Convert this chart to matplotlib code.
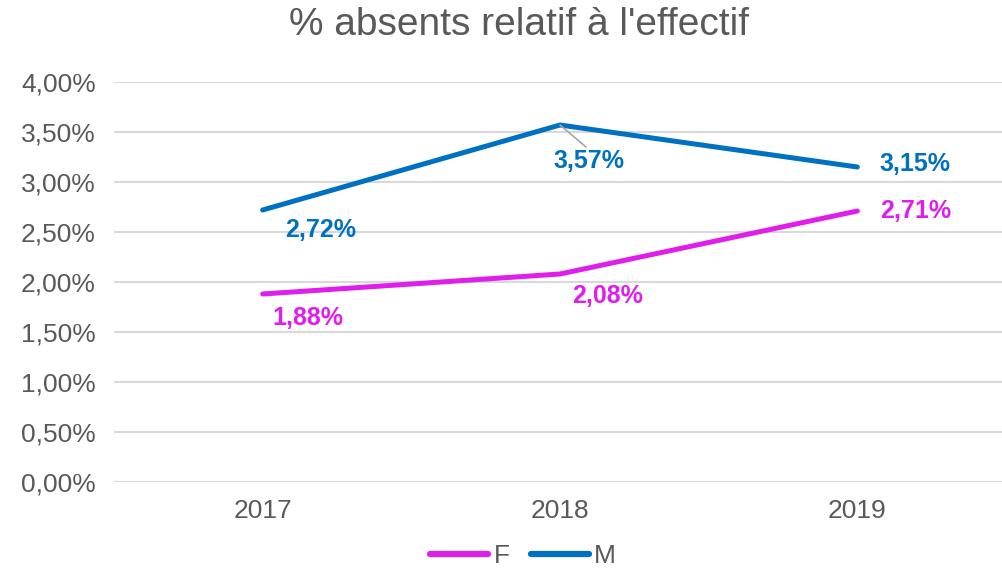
import matplotlib
matplotlib.use("Agg")
import matplotlib.pyplot as plt
from matplotlib.ticker import FuncFormatter

years = ["2017", "2018", "2019"]
F = [1.88, 2.08, 2.71]
M = [2.72, 3.57, 3.15]
yticks = [0, 0.5, 1.0, 1.5, 2.0, 2.5, 3.0, 3.5, 4.0]

cF = "#E01EEB"
cM = "#0070C0"
grey = "#595959"
plt.rcParams['font.family'] = ['Liberation Sans', 'DejaVu Sans']

fig = plt.figure(figsize=(10.03, 5.69), dpi=100)
ax = fig.add_axes([114/1003, 1-482/569, 892/1003, 400/569])
x = list(range(len(years)))
ax.plot(x, F, color=cF, lw=3.6, solid_capstyle='round', label="F", zorder=3)
ax.plot(x, M, color=cM, lw=3.6, solid_capstyle='round', label="M", zorder=3)
ax.set_xlim(-0.5, 2.5)
ax.set_ylim(0, 4.0)
ax.set_yticks(yticks)
ax.yaxis.set_major_formatter(FuncFormatter(lambda v, p: f"{v:.2f}".replace(".", ",") + "%"))
ax.set_xticks(x)
ax.set_xticklabels(years)
ax.grid(axis='y', color="#D9D9D9", lw=1.5, zorder=0)
ax.set_axisbelow(True)
for s in ax.spines.values():
    s.set_visible(False)
ax.tick_params(length=0, labelsize=19, colors=grey)
ax.tick_params(axis='y', pad=13)
ax.tick_params(axis='x', pad=12)
for lbl in ax.get_yticklabels():
    lbl.set_color(grey)

def fmt(v):
    return f"{v:.2f}".replace(".", ",") + "%"

offM = [(58, -20), (29, -36), (58, 3)]
offF = [(45, -24), (48, -22), (58, 0)]
for i in x:
    ax.annotate(fmt(M[i]), (i, M[i]), xytext=offM[i], textcoords='offset pixels',
                ha='center', va='center', color=cM, fontsize=18, fontweight='bold')
    ax.annotate(fmt(F[i]), (i, F[i]), xytext=offF[i], textcoords='offset pixels',
                ha='center', va='center', color=cF, fontsize=18, fontweight='bold')
# leader line for 2018 M
ax.annotate("", (1, M[1]), xytext=(26, -22), textcoords='offset pixels',
            arrowprops=dict(arrowstyle='-', color="#A6A6A6", lw=1.2, shrinkA=0, shrinkB=0))

fig.text(519/1003, 1-25/569, "% absents relatif à l'effectif", ha='center', va='center',
         fontsize=28, color=grey)
leg = fig.legend(loc='center', bbox_to_anchor=(523/1003, 1-556/569), ncol=2, frameon=False,
                 fontsize=19, handlelength=2.2, columnspacing=0.8, handletextpad=0.2)
for t in leg.get_texts():
    t.set_color(grey)
for h in leg.legend_handles:
    h.set_linewidth(4.5)
fig.savefig("out.png", dpi=100)
